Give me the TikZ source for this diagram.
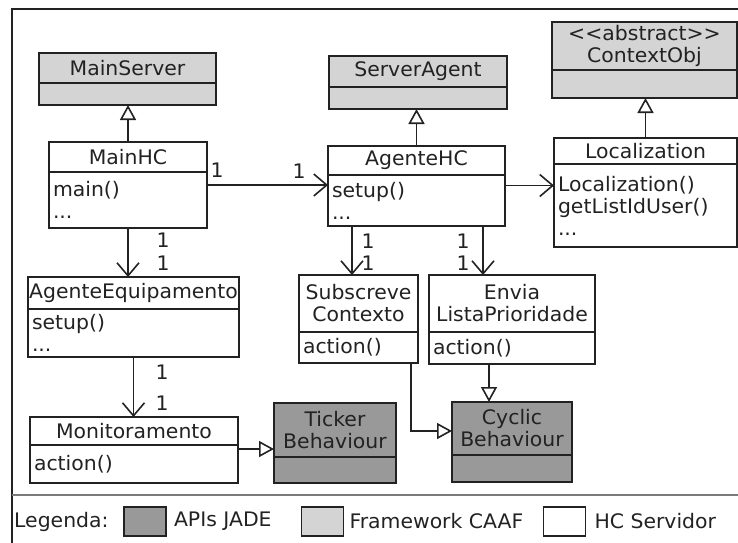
\documentclass[tikz,border=0pt]{standalone}
\usepackage{fontspec}
\setmainfont{DejaVu Sans}[FakeStretch=1.02]
\usepackage{xcolor}
\usetikzlibrary{positioning, arrows.meta}

\definecolor{jadegray}{RGB}{153,153,153}
\definecolor{caafgray}{RGB}{212,212,212}
\definecolor{ink}{RGB}{34,34,34}

\begin{document}
\begin{tikzpicture}[
    x=1pt, y=-1pt,
    every node/.style={font=\fontsize{20}{22}\selectfont, text=ink},
    head/.style={draw=ink, line width=1.6pt, rectangle, align=center, inner sep=0pt, outer sep=0pt, fill=white},
    body/.style={draw=ink, line width=1.6pt, rectangle, align=left, inner xsep=4pt, inner ysep=0pt, outer sep=0pt, fill=white},
    mult/.style={inner sep=0pt},
    swatch/.style={draw=ink, line width=1.6pt, minimum width=42pt, minimum height=29pt, inner sep=0pt, fill=white},
    legtext/.style={inner sep=0pt},
    assoc/.style={draw=ink, line width=1.6pt, -{Straight Barb[length=13pt, width=22pt, line width=1.6pt]}},
    inherit/.style={draw=ink, line width=1.6pt, -{Triangle[open, length=15pt, width=16pt, line width=1.6pt]}}
]
\useasboundingbox (0,0) rectangle (738,542);

% --- FRAME ---
\draw[ink, line width=1.6pt] (12,548) -- (12,9) -- (745,9);
\draw[ink!60, line width=2.2pt] (12,495) -- (745,495);

% --- CAAF CLASSES ---
\node[head, fill=caafgray, minimum width=177pt, minimum height=30pt] (mainserver) at (127.5,68) {MainServer};
\node[body, fill=caafgray, minimum width=177pt, minimum height=22pt, below=0pt of mainserver] (mainserverB) {};
\node[head, fill=caafgray, minimum width=178pt, minimum height=31pt] (serveragent) at (418,71.5) {ServerAgent};
\node[body, fill=caafgray, minimum width=178pt, minimum height=22pt, below=0pt of serveragent] (serveragentB) {};
\node[head, fill=caafgray, minimum width=185pt, minimum height=48pt] (contextobj) at (644.5,46) {<\kern0pt<abstract>\kern0pt>\\ContextObj};
\node[body, fill=caafgray, minimum width=185pt, minimum height=28pt, below=0pt of contextobj] (contextobjB) {};

% --- HC CLASSES ---
\node[head, minimum width=158pt, minimum height=30pt] (mainhc) at (128,157) {MainHC};
\node[body, text width=150pt, minimum height=56pt, below=0pt of mainhc] (mainhcB) {main()\\...};
\node[head, minimum width=177pt, minimum height=29pt] (agentehc) at (416.5,160.5) {AgenteHC};
\node[body, text width=169pt, minimum height=51pt, below=0pt of agentehc] (agentehcB) {setup()\\...};
\node[head, minimum width=183pt, minimum height=26pt] (localization) at (645.5,151) {Localization};
\node[body, text width=175pt, minimum height=83pt, below=0pt of localization] (localizationB) {Localization()\\getListIdUser()\\...};
\node[head, text width=211pt, minimum height=32pt] (equipamento) at (133.5,293) {AgenteEquipamento};
\node[body, text width=203pt, minimum height=48pt, below=0pt of equipamento] (equipamentoB) {setup()\\...};
\node[head, minimum width=119pt, minimum height=57pt] (subscreve) at (358.5,303.5) {Subscreve\\Contexto};
\node[body, text width=111pt, minimum height=31pt, below=0pt of subscreve] (subscreveB) {action()};
\node[head, minimum width=166pt, minimum height=57pt] (envia) at (512,303.5) {Envia\\ListaPrioridade};
\node[body, text width=158pt, minimum height=32pt, below=0pt of envia] (enviaB) {action()};
\node[head, minimum width=208pt, minimum height=28pt] (monitoramento) at (134,431) {Monitoramento};
\node[body, text width=200pt, minimum height=38pt, below=0pt of monitoramento] (monitoramentoB) {action()};

% --- JADE CLASSES ---
\node[head, fill=jadegray, minimum width=122pt, minimum height=54pt] (ticker) at (335,430) {Ticker\\Behaviour};
\node[body, fill=jadegray, minimum width=122pt, minimum height=26pt, below=0pt of ticker] (tickerB) {};
\node[head, fill=jadegray, minimum width=120pt, minimum height=53pt] (cyclic) at (512,428.5) {Cyclic\\Behaviour};
\node[body, fill=jadegray, minimum width=120pt, minimum height=27pt, below=0pt of cyclic] (cyclicB) {};

% --- INHERITANCE ---
\draw[inherit] (mainhc.north) -- (mainhc.north |- mainserverB.south);
\draw[inherit] (agentehc.north) -- (agentehc.north |- serveragentB.south);
\draw[inherit] (localization.north) -- (localization.north |- contextobjB.south);
\draw[inherit] ([yshift=-4pt]monitoramentoB.north east) -- ([yshift=-4pt]monitoramentoB.north east -| ticker.west);
\draw[inherit] ([xshift=-7pt]subscreveB.south east) |- ([yshift=-2.5pt]cyclic.west);
\draw[inherit] ([xshift=-23pt]enviaB.south) -- ([xshift=-23pt]enviaB.south |- cyclic.north);

% --- ASSOCIATIONS ---
\draw[assoc] ([yshift=15pt]mainhcB.east) -- ([yshift=15pt]mainhcB.east -| agentehcB.west);
\draw[assoc] ([yshift=15pt]agentehcB.east) -- ([yshift=15pt]agentehcB.east -| localizationB.west);
\draw[assoc] (mainhcB.south) -- (mainhcB.south |- equipamento.north);
\draw[assoc] ([xshift=-64.5pt]agentehcB.south) -- ([xshift=-64.5pt]agentehcB.south |- subscreve.north);
\draw[assoc] ([xshift=66.5pt]agentehcB.south) -- ([xshift=66.5pt]agentehcB.south |- envia.north);
\draw[assoc] (equipamentoB.south) -- (equipamentoB.south |- monitoramento.north);

% multiplicities
\node[mult] (m1) at (217,170) {1};
\node[mult] (m2) at (299,171) {1};
\node[mult] (m3) at (163,240) {1};
\node[mult] (m4) at (163,263) {1};
\node[mult] (m5) at (368,241) {1};
\node[mult] (m6) at (368,263) {1};
\node[mult] (m7) at (463,241) {1};
\node[mult] (m8) at (463,263) {1};
\node[mult] (m9) at (162,372) {1};
\node[mult] (m10) at (162,403) {1};

% --- LEGEND ---
\node[legtext, anchor=west] (legenda) at (14,521.5) {Legenda:};
\node[swatch, fill=jadegray] (swjade) at (145,521.5) {};
\node[legtext, right=7pt of swjade] (txjade) {APIs JADE};
\node[swatch, fill=caafgray] (swcaaf) at (322.5,521.5) {};
\node[legtext, right=5pt of swcaaf] (txcaaf) {Framework CAAF};
\node[swatch] (swhc) at (564.5,521.5) {};
\node[legtext, right=8pt of swhc] (txhc) {HC Servidor};
\end{tikzpicture}
\end{document}
